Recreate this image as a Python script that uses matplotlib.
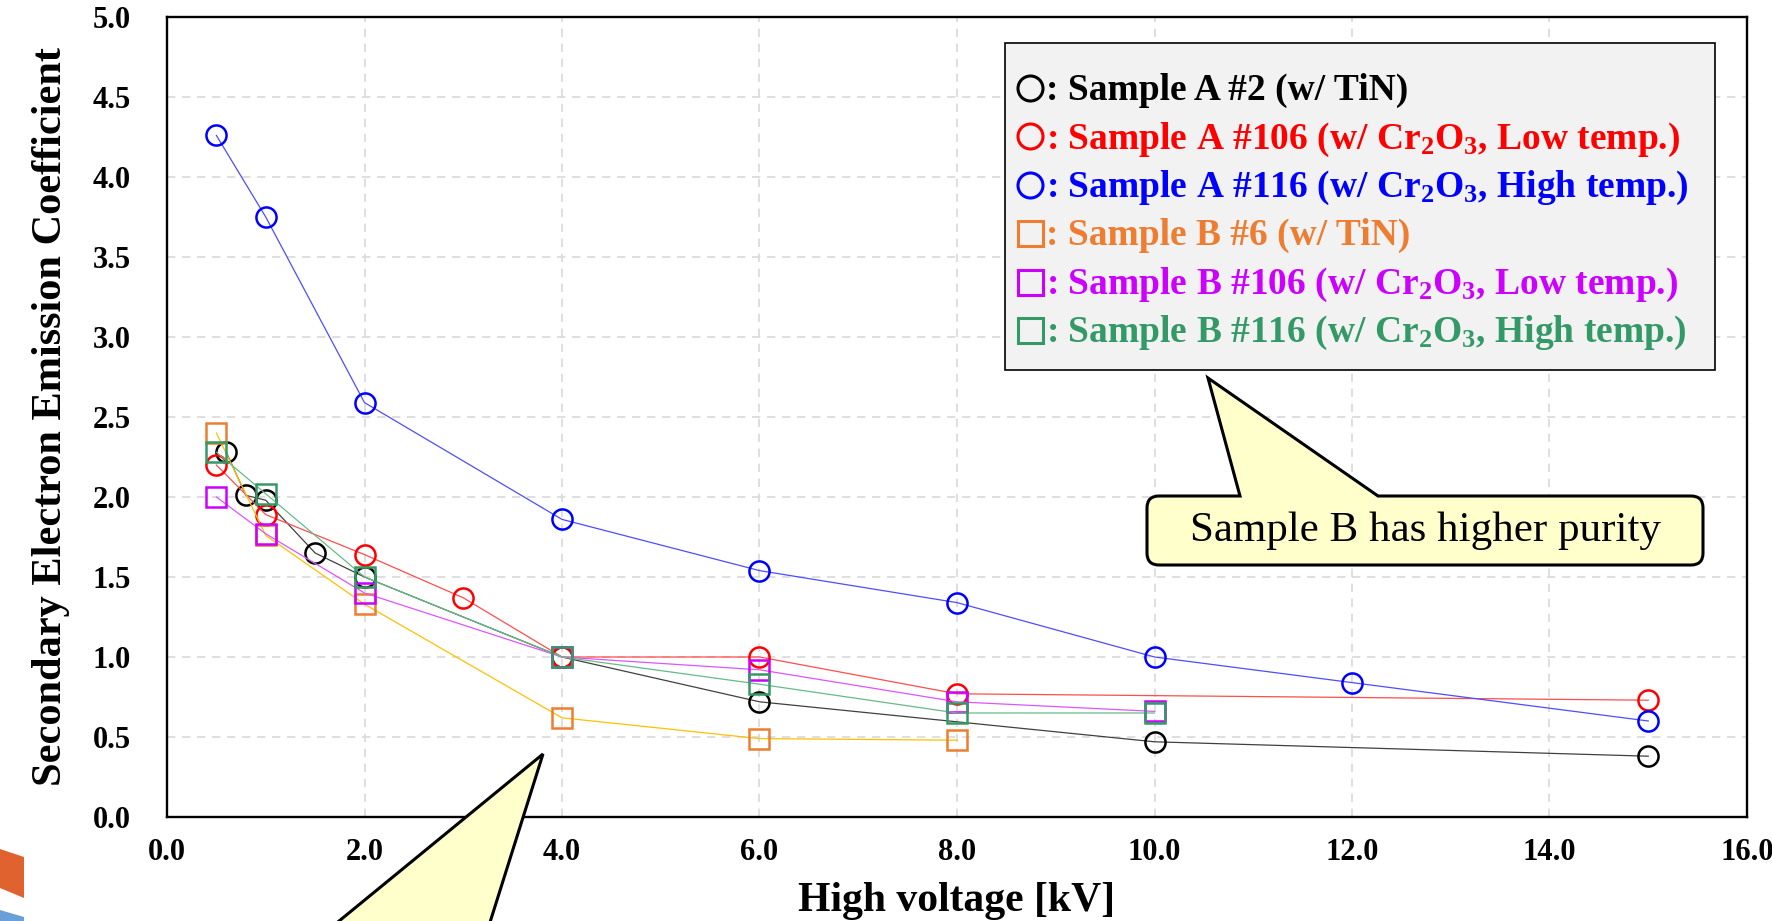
import matplotlib
matplotlib.use('Agg')
import matplotlib.pyplot as plt
from matplotlib.lines import Line2D
from matplotlib.path import Path
from matplotlib.patches import PathPatch, Polygon, Rectangle
from matplotlib.transforms import Affine2D

plt.rcParams['font.family'] = ['Liberation Serif', 'DejaVu Serif']
plt.rcParams['mathtext.default'] = 'regular'

# data (x: kV, y: SEE coefficient)
a2_x = [0.6, 0.8, 1.0, 1.5, 2.0, 4.0, 6.0, 10.0, 15.0]
a2_y = [2.28, 2.01, 1.98, 1.65, 1.50, 1.00, 0.72, 0.47, 0.38]

a106_x = [0.5, 1.0, 2.0, 3.0, 4.0, 6.0, 8.0, 15.0]
a106_y = [2.20, 1.89, 1.64, 1.37, 1.00, 1.00, 0.77, 0.73]

a116_x = [0.5, 1.0, 2.0, 4.0, 6.0, 8.0, 10.0, 12.0, 15.0]
a116_y = [4.26, 3.75, 2.59, 1.86, 1.54, 1.34, 1.00, 0.84, 0.60]

b6_x = [0.5, 1.0, 2.0, 4.0, 6.0, 8.0]
b6_y = [2.40, 1.76, 1.33, 0.62, 0.49, 0.48]

b106_x = [0.5, 1.0, 2.0, 4.0, 6.0, 8.0, 10.0]
b106_y = [2.00, 1.77, 1.40, 1.00, 0.92, 0.72, 0.66]

b116_x = [0.5, 1.0, 2.0, 4.0, 6.0, 8.0, 10.0]
b116_y = [2.28, 2.02, 1.50, 1.00, 0.83, 0.65, 0.65]

labels = [
    ': Sample A #2 (w/ TiN)',
    r': Sample A #106 (w/ Cr$_2$O$_3$, Low temp.)',
    r': Sample A #116 (w/ Cr$_2$O$_3$, High temp.)',
    ': Sample B #6 (w/ TiN)',
    r': Sample B #106 (w/ Cr$_2$O$_3$, Low temp.)',
    r': Sample B #116 (w/ Cr$_2$O$_3$, High temp.)',
]
marker_colors = ['#000000', '#FF0000', '#0000FF', '#ED7D31', '#CC00FF', '#339966']
line_colors = ['#404040', '#FF4D4D', '#4D4DFF', '#FFC000', '#DD55FF', '#66BB88']
markers = ['o', 'o', 'o', 's', 's', 's']
series = [(a2_x, a2_y), (a106_x, a106_y), (a116_x, a116_y),
          (b6_x, b6_y), (b106_x, b106_y), (b116_x, b116_y)]

W, H = 1772, 921
fig = plt.figure(figsize=(W / 100, H / 100), dpi=100)
ax = fig.add_axes([167 / W, 1 - 817 / H, 1580 / W, 800 / H])
# pixel coordinates of the picture (origin top-left)
px = Affine2D().scale(1 / W, -1 / H).translate(0, 1) + fig.transFigure

for (x, y), mc, lc, m in zip(series, marker_colors, line_colors, markers):
    ax.plot(x, y, color=lc, lw=0.9, marker=m, ms=14.5, mfc='none',
            mec=mc, mew=1.8, zorder=3)

ax.set_xlim(0, 16)
ax.set_ylim(0, 5)
ax.set_xticks([i * 2.0 for i in range(9)])
ax.set_yticks([i * 0.5 for i in range(11)])
ax.xaxis.set_major_formatter('{x:.1f}')
ax.yaxis.set_major_formatter('{x:.1f}')
ax.tick_params(length=0, labelsize=22)
ax.tick_params(axis='x', pad=15)
ax.tick_params(axis='y', pad=26)
for t in ax.get_xticklabels() + ax.get_yticklabels():
    t.set_fontweight('bold')

ax.grid(True, color='#D9D9D9', ls=(0, (5, 4)), lw=1.2)
ax.set_axisbelow(True)
for s in ax.spines.values():
    s.set_linewidth(1.7)
    s.set_color('black')

ax.set_xlabel('High voltage [kV]', fontsize=30, fontweight='bold', labelpad=11)
ax.set_ylabel('Secondary Electron Emission Coefficient', fontsize=30.5,
              fontweight='bold', labelpad=16)

# legend box drawn by hand, marker glyph + coloured text per row
fig.add_artist(Rectangle((1005, 43), 710, 327, transform=px, facecolor='#F2F2F2',
                         edgecolor='black', lw=1.2, zorder=4))
for i, (lab, mc, m) in enumerate(zip(labels, marker_colors, markers)):
    yc = 88 + i * 48.4
    fig.add_artist(Line2D([1030], [yc], transform=px, ls='none', marker=m, ms=18,
                          mfc='none', mec=mc, mew=2.2, zorder=5))
    fig.text(1046, yc + 12, lab, transform=px, color=mc, fontsize=27,
             fontweight='bold', ha='left', va='baseline', zorder=5)

# callout: "Sample B has higher purity"
L, T, R, B, r = 1147, 496, 1703, 565, 12
verts = [(1240, T), (1208, 378), (1378, T), (R - r, T), (R, T), (R, T + r),
         (R, B - r), (R, B), (R - r, B), (L + r, B), (L, B), (L, B - r),
         (L, T + r), (L, T), (L + r, T), (1240, T)]
codes = [Path.MOVETO, Path.LINETO, Path.LINETO, Path.LINETO, Path.CURVE3, Path.CURVE3,
         Path.LINETO, Path.CURVE3, Path.CURVE3, Path.LINETO, Path.CURVE3, Path.CURVE3,
         Path.LINETO, Path.CURVE3, Path.CURVE3, Path.CLOSEPOLY]
fig.add_artist(PathPatch(Path(verts, codes), transform=px, facecolor='#FFFFCC',
                         edgecolor='black', lw=2.2, zorder=5))
fig.text(1425, 531, 'Sample B has higher purity', transform=px, ha='center',
         va='center', fontsize=31, zorder=6)

# second callout pointer, its box lies below the picture
fig.add_artist(Polygon([(322, 935), (543, 754), (486, 935)], closed=True,
                       transform=px, facecolor='#FFFFCC', edgecolor='black',
                       lw=2.2, zorder=5))

# slide decoration at bottom-left
fig.add_artist(Polygon([(0, 849), (24, 857), (24, 898), (0, 888)], closed=True,
                       transform=px, facecolor='#E0622F', edgecolor='none'))
fig.add_artist(Polygon([(0, 910), (24, 917), (24, 925), (0, 925)], closed=True,
                       transform=px, facecolor='#6A9FD8', edgecolor='none'))

fig.savefig('out.png', dpi=100)
